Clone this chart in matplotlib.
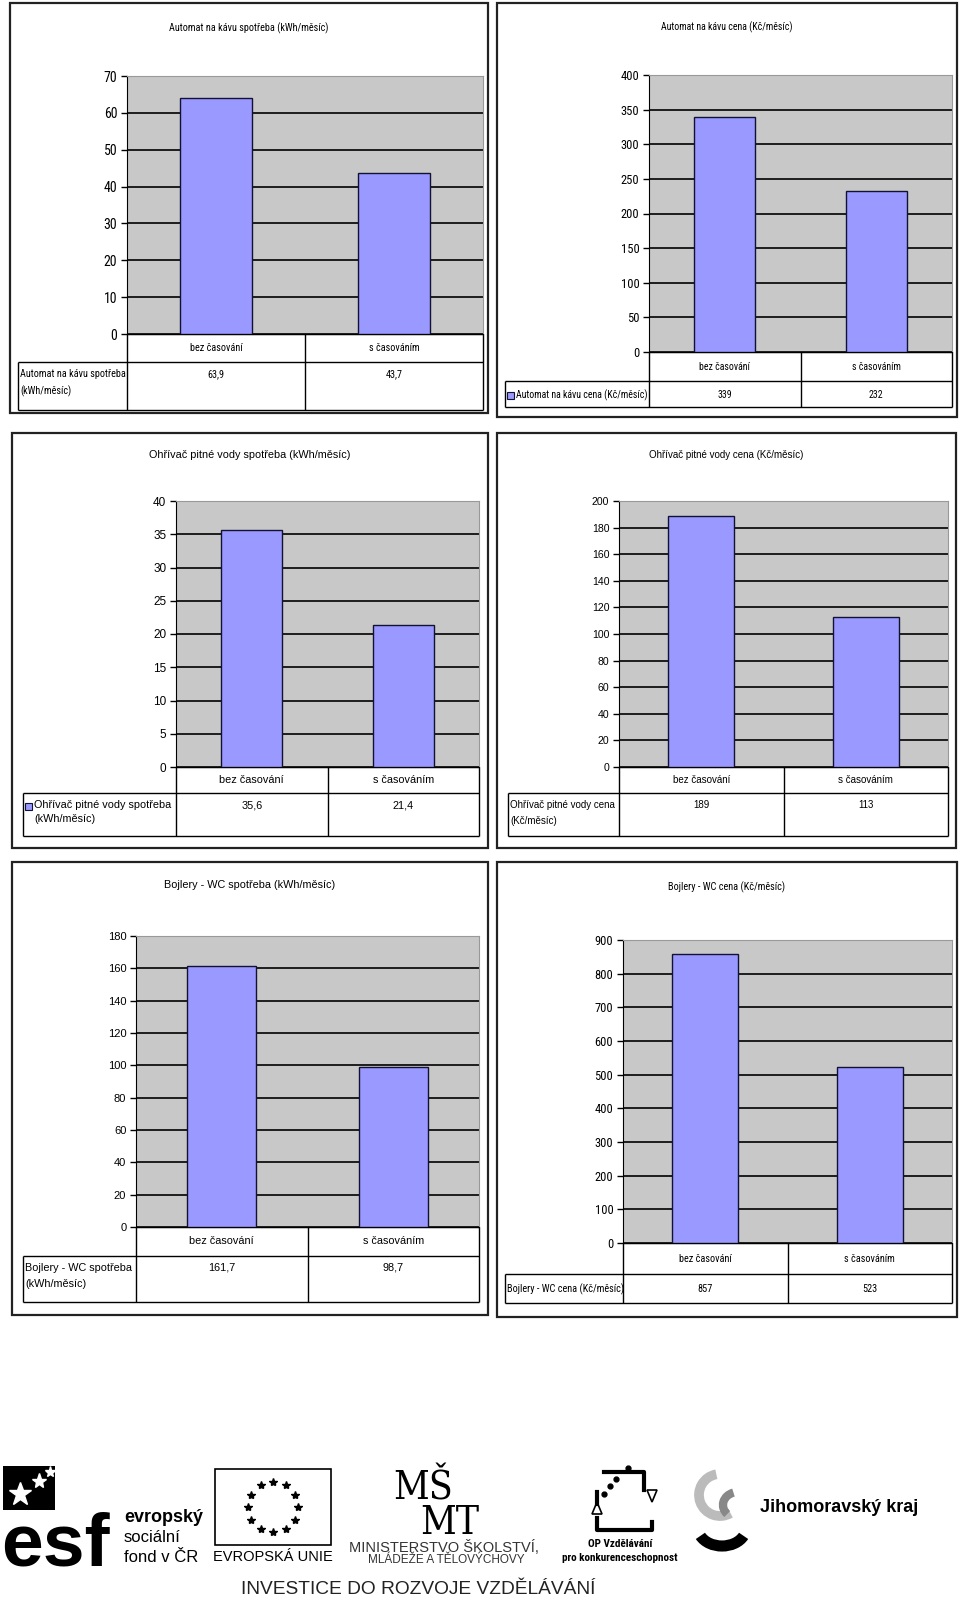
import numpy as np
import matplotlib
matplotlib.use('Agg')
import matplotlib.pyplot as plt
from matplotlib.patches import Rectangle, Arc, Polygon

W, H = 960, 1600

categories = ['bez časování', 's časováním']
titles = ['Automat na kávu spotřeba (kWh/měsíc)',
          'Automat na kávu cena (Kč/měsíc)',
          'Ohřívač pitné vody spotřeba (kWh/měsíc)',
          'Ohřívač pitné vody cena (Kč/měsíc)',
          'Bojlery - WC spotřeba (kWh/měsíc)',
          'Bojlery - WC cena (Kč/měsíc)']
row_labels = ['Automat na kávu spotřeba\n(kWh/měsíc)',
              'Automat na kávu cena (Kč/měsíc)',
              'Ohřívač pitné vody spotřeba\n(kWh/měsíc)',
              'Ohřívač pitné vody cena\n(Kč/měsíc)',
              'Bojlery - WC spotřeba\n(kWh/měsíc)',
              'Bojlery - WC cena (Kč/měsíc)']
kava_kwh = [63.9, 43.7]
kava_kc = [339, 232]
ohrivac_kwh = [35.6, 21.4]
ohrivac_kc = [189, 113]
bojlery_kwh = [161.7, 98.7]
bojlery_kc = [857, 523]
series = [kava_kwh, kava_kc, ohrivac_kwh, ohrivac_kc, bojlery_kwh, bojlery_kc]
y_max = [70, 400, 40, 200, 180, 900]
y_step = [10, 50, 5, 20, 20, 100]

COND = ['Roboto Condensed', 'DejaVu Sans']
REG = ['Liberation Sans', 'DejaVu Sans']

# layout in pixels: panel box, plot area (l, t, r, b), table rows, label column
panels = [
    dict(box=(10, 3, 488, 413), plot=(127, 76, 483, 334), hdr=362, row=410, lab=18, ty=28,
         fam=COND, st='condensed', fs=7.3, tfs=10, ls=1.75, key=False),
    dict(box=(497, 3, 957, 417), plot=(649, 75, 952, 352), hdr=381, row=407, lab=505, ty=27,
         fam=COND, st='condensed', fs=7.1, tfs=9, ls=1.5, key=True),
    dict(box=(12, 433, 488, 848), plot=(176, 501, 479, 767), hdr=793, row=836, lab=23, ty=455,
         fam=REG, st='normal', fs=7.8, tfs=8.5, ls=1.5, key=True),
    dict(box=(497, 433, 956, 848), plot=(619, 501, 948, 767), hdr=793, row=836, lab=508, ty=455,
         fam=REG, st='normal', fs=7.0, tfs=7.6, ls=1.7, key=False),
    dict(box=(12, 862, 488, 1315), plot=(136, 936, 479, 1227), hdr=1256, row=1302, lab=23, ty=885,
         fam=REG, st='normal', fs=7.8, tfs=8, ls=1.8, key=False),
    dict(box=(497, 862, 957, 1317), plot=(623, 940, 952, 1243), hdr=1274, row=1303, lab=505, ty=887,
         fam=COND, st='condensed', fs=7.4, tfs=9, ls=1.5, key=False),
]

BAR = '#9999FF'
PLOTBG = '#C8C8C8'


def fmt(v):
    if float(v).is_integer():
        return str(int(v))
    return f'{v:.1f}'.replace('.', ',')


fig = plt.figure(figsize=(W / 100, H / 100), dpi=100)
fig.patch.set_facecolor('white')

bg = fig.add_axes([0, 0, 1, 1], zorder=0)
bg.set_xlim(0, W)
bg.set_ylim(H, 0)
bg.axis('off')


def hline(x0, x1, y, color='black', lw=1.0):
    bg.plot([x0, x1], [y, y], color=color, lw=lw, solid_capstyle='butt')


def vline(x, y0, y1, color='black', lw=1.0):
    bg.plot([x, x], [y0, y1], color=color, lw=lw, solid_capstyle='butt')


for i, p in enumerate(panels):
    txt = dict(family=p['fam'], fontstretch=p['st'], fontsize=p['fs'])
    bl, bt, br, bb = p['box']
    bg.add_patch(Rectangle((bl, bt), br - bl, bb - bt, fill=False, ec='#222222', lw=1.6))
    bg.text((bl + br) / 2, p['ty'], titles[i], ha='center', va='center', **txt)

    l, t, r, b = p['plot']
    ax = fig.add_axes([l / W, 1 - b / H, (r - l) / W, (b - t) / H], zorder=2)
    x = np.arange(len(categories))
    ax.bar(x, series[i], width=0.4, color=BAR, edgecolor='#111133', lw=1.0, zorder=3)
    ax.set_xlim(-0.5, len(categories) - 0.5)
    ax.set_ylim(0, y_max[i])
    ax.set_yticks(np.arange(0, y_max[i] + y_step[i], y_step[i]))
    ax.set_facecolor(PLOTBG)
    ax.yaxis.grid(True, color='black', lw=1.2, zorder=1)
    ax.set_axisbelow(True)
    ax.set_xticks([])
    ax.tick_params(axis='y', length=4, width=1, pad=3, labelsize=p['tfs'], direction='out')
    for lbl in ax.get_yticklabels():
        lbl.set_family(p['fam'])
        lbl.set_fontstretch(p['st'])
    ax.spines['left'].set_color('black')
    ax.spines['bottom'].set_color('black')
    ax.spines['top'].set_color('#999999')
    ax.spines['right'].set_color('#999999')

    # data table under the plot
    n = len(categories)
    cw = (r - l) / n
    hline(l, r, b)
    hline(p['lab'], r, p['hdr'])
    hline(p['lab'], r, p['row'])
    vline(l, b, p['row'])
    vline(r, b, p['row'])
    vline(p['lab'], p['hdr'], p['row'])
    for k in range(1, n):
        vline(l + k * cw, b, p['row'])

    label = row_labels[i]
    if '\n' in label:
        ly, lva = p['hdr'] + 7, 'top'
        ky = p['hdr'] + 13
    else:
        ly, lva = (p['hdr'] + p['row']) / 2 + 1, 'center'
        ky = ly
    for k, c in enumerate(categories):
        cx = l + (k + 0.5) * cw
        bg.text(cx, (b + p['hdr']) / 2, c, ha='center', va='center', **txt)
        bg.text(cx, ly, fmt(series[i][k]), ha='center', va=lva, **txt)
    tx = p['lab'] + 2
    if p['key']:
        bg.add_patch(Rectangle((tx, ky - 3.5), 6.5, 7, fc=BAR, ec='#111133', lw=0.8))
        tx += 9
    bg.text(tx, ly, label, ha='left', va=lva, linespacing=p['ls'], **txt)

# ---- logos strip at the bottom ----
# ESF
bg.add_patch(Rectangle((3, 1466), 52, 44, fc='black', ec='none'))
bg.text(1, 1566, 'esf', ha='left', va='baseline', fontsize=54, fontweight='bold',
        family=REG, color='black')
for sx, sy, ss in [(20, 1494, 17), (39, 1481, 11), (50, 1472, 8)]:
    bg.plot(sx, sy, marker='*', ms=ss, color='white', mec='white')
bg.text(124, 1518, 'evropský', fontsize=13, family=REG, va='center', fontweight='bold')
bg.text(124, 1538, 'sociální', fontsize=12, family=REG, va='center')
bg.text(124, 1557, 'fond v ČR', fontsize=12, family=REG, va='center')

# EU flag
bg.add_patch(Rectangle((215, 1469), 116, 76, fill=False, ec='black', lw=1.2))
ang = np.linspace(0, 2 * np.pi, 13)[:-1]
bg.plot(273 + 25 * np.cos(ang), 1507 + 25 * np.sin(ang), ls='none', marker='*', ms=6, color='black')
bg.text(273, 1557, 'EVROPSKÁ UNIE', ha='center', va='center', fontsize=10.5, family=REG)

# MSMT
serif = ['DejaVu Serif', 'Liberation Serif']
bg.text(393, 1500, 'MŠ', ha='left', va='baseline', fontsize=28, family=serif,
        fontstretch='condensed', fontweight='light')
bg.text(420, 1534, 'MT', ha='left', va='baseline', fontsize=28, family=serif,
        fontstretch='condensed', fontweight='light')
bg.text(444, 1547, 'MINISTERSTVO ŠKOLSTVÍ,', ha='center', va='center', fontsize=10.5, family=REG, color='#333333')
bg.text(446, 1560, 'MLÁDEŽE A TĚLOVÝCHOVY', ha='center', va='center', fontsize=8.5, family=REG, color='#333333')

# OP Vzdelavani
bg.plot([597, 597, 652, 652], [1518, 1530, 1530, 1522], color='black', lw=3)
bg.plot([597, 597], [1492, 1504], color='black', lw=3)
bg.plot([604, 644, 644], [1472, 1472, 1490], color='black', lw=3)
bg.add_patch(Polygon([[592, 1514], [602, 1514], [597, 1502]], closed=True, fc='white', ec='black', lw=1.2))
bg.add_patch(Polygon([[647, 1490], [657, 1490], [652, 1502]], closed=True, fc='white', ec='black', lw=1.2))
bg.plot([604, 610, 616, 628], [1494, 1486, 1479, 1468], ls='none', marker='o', ms=3.5, color='black')
bg.text(620, 1544, 'OP Vzdělávání', ha='center', va='center', fontsize=8, fontweight='bold', family=COND)
bg.text(620, 1558, 'pro konkurenceschopnost', ha='center', va='center', fontsize=8, fontweight='bold', family=COND)

# Jihomoravsky kraj
bg.add_patch(Arc((720, 1495), 42, 42, theta1=60, theta2=260, lw=7, color='#BBBBBB'))
bg.add_patch(Arc((738, 1505), 30, 26, theta1=140, theta2=250, lw=6, color='#888888'))
bg.add_patch(Arc((722, 1528), 48, 36, theta1=20, theta2=160, lw=8, color='black'))
bg.text(760, 1507, 'Jihomoravský kraj', ha='left', va='center', fontsize=13, fontweight='bold', family=REG)

bg.text(418, 1589, 'INVESTICE DO ROZVOJE VZDĚLÁVÁNÍ', ha='center', va='center', fontsize=13.8,
        family=REG, color='#222222')

fig.savefig('out.png', dpi=100, facecolor='white')
